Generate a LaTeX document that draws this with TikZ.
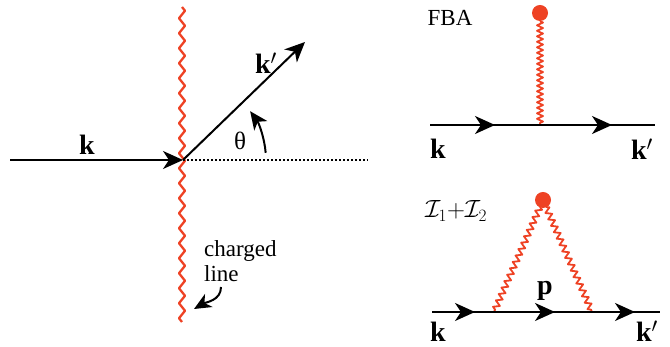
\documentclass[tikz,border=0pt]{standalone}
\usepackage{fontspec}
\setmainfont{Liberation Serif}
\usetikzlibrary{arrows.meta,decorations.pathmorphing,decorations.markings}
\definecolor{rd}{RGB}{238,66,36}
\tikzset{
  lbl/.style={inner sep=0pt, font=\fontsize{23}{25}\selectfont},
  vec/.style={inner sep=0pt, font=\fontsize{28}{30}\selectfont\bfseries},
  ln/.style={line width=2pt, black},
  tip/.style={-{Stealth[length=20pt,width=18pt,inset=6pt]}},
  bigwave/.style={rd, line width=2.3pt, line join=round, decorate,
    decoration={zigzag, segment length=15pt, amplitude=3pt}},
  finewave/.style={rd, line width=1.8pt, line join=round, decorate,
    decoration={zigzag, segment length=6pt, amplitude=3pt}},
  dot/.style={circle, fill=rd, inner sep=0pt, minimum size=16pt},
  midarrows/.style={postaction={decorate, decoration={markings,
    mark=at position #1 with {\arrow{Stealth[length=20pt,width=18pt,inset=6pt]}}}}}
}
\begin{document}
\begin{tikzpicture}[x=1pt,y=1pt]
\useasboundingbox (0,0) rectangle (670,347);
% ---------- left panel ----------
\coordinate (wtop) at (182,340);
\coordinate (wbot) at (182,25);
\draw[bigwave] (wtop) -- (wbot);
\coordinate (kin) at (10,187);
\coordinate (O) at (183,187);
\coordinate (dotend) at (368,187);
\coordinate (kout) at (305,305);
\draw[ln, dotted, line width=1.4pt] (O) -- (dotend);
\draw[ln, tip] (kin) -- (O);
\draw[ln, tip] (O) -- (kout);
\node[vec] (klab) at (87,202) {k};
\node[vec] (kplab) at (266,284) {k$'$};
\draw[ln, -{Stealth[length=18pt,width=16pt,inset=5pt]}] ([shift={(5:83)}]O) arc[start angle=5, end angle=36, radius=83];
\node[lbl, font=\fontsize{25}{27}\selectfont] (theta) at (240,206) {θ};
\node[lbl, anchor=west, align=left] (charged) at (204,86) {charged\\line};
\coordinate (cstart) at (221,60);
\coordinate (cend) at (194,38);
\draw[ln, -{Stealth[length=17pt,width=15pt,inset=5pt]}] (cstart) to[out=-90, in=30] (cend);
% ---------- FBA ----------
\node[lbl] (fba) at (450,329) {FBA};
\node[dot] (d1) at (540,334) {};
\coordinate (v1) at (540,222);
\draw[finewave, decoration={segment length=5.5pt}] (d1.south) -- (v1);
\coordinate (a1) at (430,222);
\coordinate (b1) at (655,222);
\draw[ln, midarrows=65pt, postaction={decorate, decoration={markings,
    mark=at position 182pt with {\arrow{Stealth[length=20pt,width=18pt,inset=6pt]}}}}] (a1) -- (b1);
\node[vec] (k1) at (438,198) {k};
\node[vec] (kp1) at (642,198) {k$'$};
% ---------- I1+I2 ----------
\node[lbl] (ii) at (456,136) {$\mathcal{I}_1{+}\mathcal{I}_2$};
\node[dot] (d2) at (543,147) {};
\coordinate (v2) at (494,35);
\coordinate (v3) at (592,35);
\draw[finewave, decoration={segment length=7pt}] (d2.center) ++(-3,-7) -- (v2);
\draw[finewave, decoration={segment length=7pt}] (d2.center) ++(3,-7) -- (v3);
\coordinate (a2) at (432,35);
\coordinate (b2) at (660,35);
\draw[ln, postaction={decorate, decoration={markings,
    mark=at position 43pt with {\arrow{Stealth[length=20pt,width=18pt,inset=6pt]}},
    mark=at position 123pt with {\arrow{Stealth[length=20pt,width=18pt,inset=6pt]}},
    mark=at position 203pt with {\arrow{Stealth[length=20pt,width=18pt,inset=6pt]}}}}] (a2) -- (b2);
\node[vec] (p) at (545,56) {p};
\node[vec, anchor=base] (k2) at (438,5) {k};
\node[vec, anchor=base] (kp2) at (647,5) {k$'$};
\end{tikzpicture}
\end{document}
